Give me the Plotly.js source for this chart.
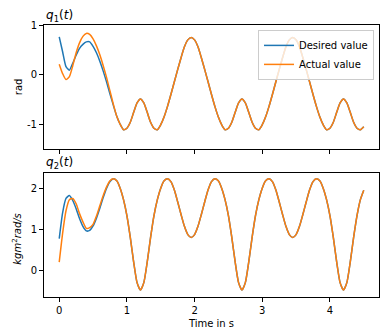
<!DOCTYPE html>
<html>
<head>
<meta charset="utf-8">
<script src="https://cdn.plot.ly/plotly-3.0.1.min.js"></script>
<style>
  html, body { margin: 0; padding: 0; background: white; }
  #chart { width: 385px; height: 335px; }
</style>
</head>
<body>
<div id="chart"></div>
<script>
// sample times in s
const time = [
  0.00, 0.05, 0.10, 0.15, 0.20, 0.25, 0.30, 0.35, 0.40, 0.45,
  0.50, 0.55, 0.60, 0.65, 0.70, 0.75, 0.80, 0.85, 0.90, 0.95,
  1.00, 1.05, 1.10, 1.15, 1.20, 1.25, 1.30, 1.35, 1.40, 1.45,
  1.50, 1.55, 1.60, 1.65, 1.70, 1.75, 1.80, 1.85, 1.90, 1.95,
  2.00, 2.05, 2.10, 2.15, 2.20, 2.25, 2.30, 2.35, 2.40, 2.45,
  2.50, 2.55, 2.60, 2.65, 2.70, 2.75, 2.80, 2.85, 2.90, 2.95,
  3.00, 3.05, 3.10, 3.15, 3.20, 3.25, 3.30, 3.35, 3.40, 3.45,
  3.50, 3.55, 3.60, 3.65, 3.70, 3.75, 3.80, 3.85, 3.90, 3.95,
  4.00, 4.05, 4.10, 4.15, 4.20, 4.25, 4.30, 4.35, 4.40, 4.45,
  4.50
];

// q1(t), rad
const q1Desired = [
  0.76, 0.46, 0.16, 0.09, 0.23, 0.39, 0.53, 0.61, 0.66, 0.66,
  0.57, 0.44, 0.27, 0.07, -0.15, -0.39, -0.62, -0.84, -1.00, -1.11,
  -1.08, -0.96, -0.76, -0.57, -0.49, -0.57, -0.76, -0.96, -1.08, -1.11,
  -1.01, -0.85, -0.64, -0.40, -0.15, 0.10, 0.34, 0.56, 0.70, 0.75,
  0.70, 0.56, 0.34, 0.10, -0.15, -0.40, -0.64, -0.85, -1.01, -1.11,
  -1.08, -0.96, -0.76, -0.57, -0.49, -0.57, -0.76, -0.96, -1.08, -1.11,
  -1.01, -0.85, -0.64, -0.40, -0.15, 0.10, 0.34, 0.56, 0.70, 0.75,
  0.70, 0.56, 0.34, 0.10, -0.15, -0.40, -0.64, -0.85, -1.01, -1.11,
  -1.08, -0.96, -0.76, -0.57, -0.49, -0.57, -0.76, -0.96, -1.08, -1.11,
  -1.05
];
const q1Actual = [
  0.21, 0.02, -0.10, -0.04, 0.18, 0.44, 0.64, 0.77, 0.83, 0.81,
  0.72, 0.58, 0.40, 0.18, -0.06, -0.33, -0.60, -0.84, -1.00, -1.11,
  -1.08, -0.96, -0.76, -0.57, -0.49, -0.57, -0.76, -0.96, -1.08, -1.11,
  -1.01, -0.85, -0.64, -0.40, -0.15, 0.10, 0.34, 0.56, 0.70, 0.75,
  0.70, 0.56, 0.34, 0.10, -0.15, -0.40, -0.64, -0.85, -1.01, -1.11,
  -1.08, -0.96, -0.76, -0.57, -0.49, -0.57, -0.76, -0.96, -1.08, -1.11,
  -1.01, -0.85, -0.64, -0.40, -0.15, 0.10, 0.34, 0.56, 0.70, 0.75,
  0.70, 0.56, 0.34, 0.10, -0.15, -0.40, -0.64, -0.85, -1.01, -1.11,
  -1.08, -0.96, -0.76, -0.57, -0.49, -0.57, -0.76, -0.96, -1.08, -1.11,
  -1.05
];

// q2(t), kg m^2 rad/s
const q2Desired = [
  0.77, 1.40, 1.75, 1.82, 1.70, 1.50, 1.26, 1.07, 0.96, 0.97,
  1.08, 1.27, 1.51, 1.77, 2.00, 2.16, 2.23, 2.18, 2.00, 1.72,
  1.33, 0.80, 0.20, -0.30, -0.48, -0.30, 0.20, 0.80, 1.33, 1.72,
  2.00, 2.18, 2.23, 2.16, 1.96, 1.67, 1.36, 1.07, 0.87, 0.80,
  0.87, 1.07, 1.36, 1.67, 1.96, 2.16, 2.23, 2.18, 2.00, 1.72,
  1.33, 0.80, 0.20, -0.30, -0.48, -0.30, 0.20, 0.80, 1.33, 1.72,
  2.00, 2.18, 2.23, 2.16, 1.96, 1.67, 1.36, 1.07, 0.87, 0.80,
  0.87, 1.07, 1.36, 1.67, 1.96, 2.16, 2.23, 2.18, 2.00, 1.72,
  1.33, 0.80, 0.20, -0.30, -0.48, -0.30, 0.20, 0.80, 1.33, 1.72,
  1.95
];
const q2Actual = [
  0.20, 0.90, 1.45, 1.72, 1.75, 1.62, 1.38, 1.18, 1.02, 1.04,
  1.12, 1.32, 1.57, 1.82, 2.03, 2.18, 2.23, 2.18, 2.00, 1.72,
  1.33, 0.80, 0.20, -0.30, -0.48, -0.30, 0.20, 0.80, 1.33, 1.72,
  2.00, 2.18, 2.23, 2.16, 1.96, 1.67, 1.36, 1.07, 0.87, 0.80,
  0.87, 1.07, 1.36, 1.67, 1.96, 2.16, 2.23, 2.18, 2.00, 1.72,
  1.33, 0.80, 0.20, -0.30, -0.48, -0.30, 0.20, 0.80, 1.33, 1.72,
  2.00, 2.18, 2.23, 2.16, 1.96, 1.67, 1.36, 1.07, 0.87, 0.80,
  0.87, 1.07, 1.36, 1.67, 1.96, 2.16, 2.23, 2.18, 2.00, 1.72,
  1.33, 0.80, 0.20, -0.30, -0.48, -0.30, 0.20, 0.80, 1.33, 1.72,
  1.95
];

const xTicks = [0, 1, 2, 3, 4];
const q1Ticks = [-1, 0, 1];
const q1TickText = ['-1', '0', '1'];
const q2Ticks = [0, 1, 2];

const BLUE = '#1f77b4';
const ORANGE = '#ff7f0e';
const FONT = 'DejaVu Sans, sans-serif';

function line(x, y, name, color, xa, ya, legend) {
  return {
    x: x, y: y, name: name,
    type: 'scatter', mode: 'lines',
    xaxis: xa, yaxis: ya,
    showlegend: legend,
    line: { color: color, width: 1.5, shape: 'spline', smoothing: 0.6 },
    hoverinfo: 'skip'
  };
}

const traces = [
  line(time, q1Desired, 'Desired value', BLUE, 'x', 'y', true),
  line(time, q1Actual, 'Actual value', ORANGE, 'x', 'y', true),
  line(time, q2Desired, 'Desired value', BLUE, 'x2', 'y2', false),
  line(time, q2Actual, 'Actual value', ORANGE, 'x2', 'y2', false)
];

const axisBase = {
  showline: true, mirror: true, linecolor: '#000', linewidth: 1,
  ticks: 'outside', ticklen: 4, tickwidth: 1, tickcolor: '#000',
  showgrid: false, zeroline: false, fixedrange: true,
  tickfont: { family: FONT, size: 10, color: '#000' }
};

function label(text, x, y, angle, size) {
  return {
    text: text, xref: 'paper', yref: 'paper', x: x, y: y,
    xanchor: angle ? 'center' : 'left', yanchor: 'middle',
    textangle: angle, showarrow: false,
    font: { family: FONT, size: size, color: '#000' }
  };
}

const layout = {
  width: 385, height: 335,
  margin: { l: 44, r: 6, t: 25, b: 38, pad: 0 },
  paper_bgcolor: 'white', plot_bgcolor: 'white',
  font: { family: FONT, size: 10, color: '#000' },
  hovermode: false,
  xaxis: Object.assign({}, axisBase, {
    domain: [0, 1], anchor: 'y', range: [-0.225, 4.725],
    tickvals: xTicks, showticklabels: false
  }),
  yaxis: Object.assign({}, axisBase, {
    domain: [0.544, 1], anchor: 'x', range: [-1.5, 1.0],
    tickvals: q1Ticks, ticktext: q1TickText
  }),
  xaxis2: Object.assign({}, axisBase, {
    domain: [0, 1], anchor: 'y2', range: [-0.225, 4.725],
    tickvals: xTicks,
    title: { text: 'Time in s', standoff: 4, font: { family: FONT, size: 10 } }
  }),
  yaxis2: Object.assign({}, axisBase, {
    domain: [0, 0.456], anchor: 'x2', range: [-0.65, 2.37],
    tickvals: q2Ticks
  }),
  legend: {
    x: 0.985, y: 0.982, xanchor: 'right', yanchor: 'top',
    bgcolor: 'rgba(255,255,255,0.8)', bordercolor: '#cccccc', borderwidth: 1,
    font: { family: FONT, size: 10, color: '#000' },
    tracegroupgap: 0
  },
  annotations: [
    label('<i>q</i><sub>1</sub>(<i>t</i>)', 0, 1.033, 0, 12),
    label('<i>q</i><sub>2</sub>(<i>t</i>)', 0, 0.4926, 0, 12),
    label('rad', -0.077, 0.772, -90, 10),
    label('<i>kgm</i><sup>2</sup><i>rad/s</i>', -0.083, 0.215, -90, 10)
  ]
};

Plotly.newPlot('chart', traces, layout, { displayModeBar: false, staticPlot: true });
</script>
</body>
</html>
